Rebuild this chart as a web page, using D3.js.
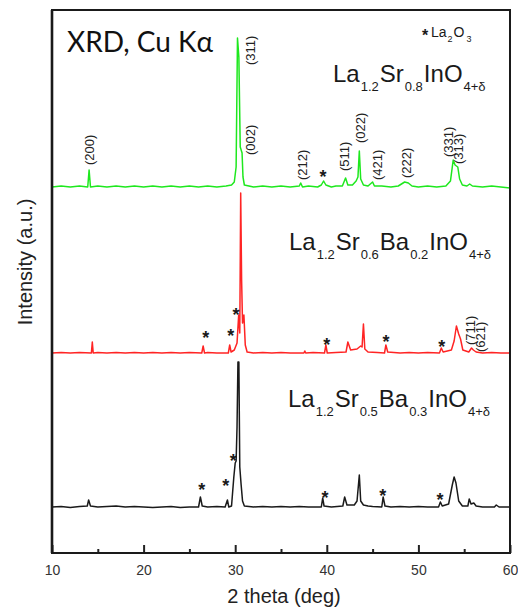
<!DOCTYPE html>
<html>
<head>
  <meta charset="utf-8">
  <script src="https://d3js.org/d3.v7.min.js"></script>
  <style>
    body { margin: 0; background: white; }
    svg { display: block; font-family: "Liberation Sans", Arial, sans-serif; }
  </style>
</head>
<body>
<svg width="518" height="610"></svg>

<script type="text/javascript">

// XRD patterns: [2 theta, intensity above its own baseline] (a.u.)
var sr08 = [
  [10,0],[11,1],[12,0],[13,1],[13.9,0],[14.05,17],[14.2,0],[15,1],[16,0],[17,1],[18,0],[19,1],
  [20,0],[21,1],[22,0],[23,1],[24,0],[25,1],[26,0],[27,1],[28,0],[29,1],[29.6,2],[29.9,5],
  [30.1,20],[30.25,149],[30.4,130],[30.55,40],[30.75,34],[30.85,10],[31.0,2],[31.5,1],[32,0],
  [33,1],[34,0],[35,1],[36,0],[37,1],[37.15,4],[37.35,0],[38,1],[39,0],[39.4,2],[39.65,6],
  [39.9,2],[40.5,0],[41,1],[41.7,1],[42.05,9],[42.3,2],[42.8,2],[43.2,6],[43.4,10],[43.55,36],
  [43.7,8],[44,2],[44.5,1],[45.0,5],[45.2,1],[46,1],[47,0],[47.8,1],[48.5,5],[48.9,4],[49.3,1],
  [50,0],[51,1],[52,0],[53,1],[53.5,6],[53.8,27],[54.0,22],[54.3,20],[54.5,8],[54.8,2],[55.3,1],
  [55.6,3],[55.9,1],[57,0],[58,1],[59,0],[60,-1]
];

var sr06ba02 = [
  [10,0],[11,0.5],[12,0],[13,0.5],[14.3,0],[14.4,11],[14.5,0],[15,0.5],[16,0],[17,0.5],[18,0],
  [19,0.5],[20,0],[21,0.5],[22,0],[23,0.5],[24,0],[25,0.5],[26.35,0],[26.5,7],[26.65,0],[27,0.5],
  [28,0],[29.25,0],[29.4,8],[29.55,1],[29.9,3],[30.2,10],[30.38,38],[30.5,20],[30.6,160],
  [30.7,73],[30.8,30],[30.95,38],[31.1,8],[31.3,1],[32,0],[33,0.5],[34,0],[35,0.5],[36,0],
  [37.5,0],[37.6,2],[37.7,0],[38.5,0.5],[39.75,0],[39.9,8],[40.05,0],[41,0.5],[42.1,1],[42.3,11],
  [42.6,3],[43.3,4],[43.7,7],[43.85,6],[44.0,29],[44.15,4],[44.5,1],[45.5,0.5],[46.3,0],[46.45,8],
  [46.65,1],[48,0],[49,0.5],[50,0],[51,0.5],[52.3,0],[52.5,5],[52.7,1],[53.6,3],[53.9,12],
  [54.15,27],[54.4,19],[54.6,14],[54.85,3],[55.5,1],[55.8,5],[56.0,3],[56.3,1],[57,0],[58,0.5],
  [59,0],[60,0]
];

var sr05ba03 = [
  [10,0],[11,0.5],[12,-0.5],[13,0.5],[13.85,1],[14.0,7],[14.2,1],[15,0],[16,0.5],[17,1],[18,0],
  [19,0.5],[20,0],[21,-0.5],[22,0],[23,0.5],[24,-0.5],[25,0],[26.0,0],[26.2,10],[26.4,1],[27,0],
  [28,0.5],[28.9,0],[29.15,7],[29.3,0],[29.6,1],[29.85,30],[30.0,44],[30.1,46],[30.2,80],
  [30.3,145],[30.4,145],[30.5,40],[30.65,22],[30.8,6],[31,1],[32,0],[33,0.5],[34,0],[35,0.5],
  [36,0],[37,0.5],[38,0],[39.4,0],[39.55,9],[39.7,1],[40.5,0],[41.75,1],[41.95,10],[42.2,2],
  [43.0,2],[43.3,6],[43.55,32],[43.7,6],[44,2],[44.5,1],[45,0.5],[46.0,0],[46.15,10],[46.35,1],
  [47,0],[48,0.5],[49,0],[50,0.5],[51,0],[52.2,0],[52.4,5],[52.6,1],[53.3,3],[53.7,22],[53.9,30],
  [54.1,24],[54.4,6],[54.8,1],[55.4,1],[55.55,8],[55.75,3],[56.05,4],[56.3,1],[57,0],[58.3,0],
  [58.5,2],[58.8,0],[60,0]
];

var patterns = [sr08, sr06ba02, sr05ba03];
var offsets = [366, 200, 46];                    // vertical stacking of the three patterns
var colors = ["#1ee81e", "#ff2424", "#1a1a1a"];

// Miller index labels: [text, 2 theta, intensity where the label starts]
var hklLabels = [
  ["(200)",14.04,388],["(311)",31.62,488],["(002)",31.62,398],["(212)",37.29,373],
  ["(511)",41.88,382],["(022)",43.62,410],["(421)",45.48,373],["(222)",48.72,375],
  ["(331)",53.25,396],["(313)",54.4,389],["(711)",55.63,208],["(621)",56.72,201]
];

// La2O3 impurity marks: [2 theta, intensity]
var impurityMarks = [
  [39.59,380],
  [26.78,219],[29.51,221],[30.09,242],[39.99,212],[46.46,215],[52.54,210],
  [26.34,67],[28.96,71],[29.79,96],[39.80,59],[46.10,61],[52.36,57]
];

var xMajorTicks = [10, 20, 30, 40, 50, 60];
var xMinorTicks = [15, 25, 35, 45, 55];

// formula pieces: [text, subscript?]
var formulas = [
  [["La",0],["1.2",1],["Sr",0],["0.8",1],["InO",0],["4+\u03b4",1]],
  [["La",0],["1.2",1],["Sr",0],["0.6",1],["Ba",0],["0.2",1],["InO",0],["4+\u03b4",1]],
  [["La",0],["1.2",1],["Sr",0],["0.5",1],["Ba",0],["0.3",1],["InO",0],["4+\u03b4",1]]
];
var formulaPos = [[333, 82], [289, 250], [288, 407]];

// plot box (note: "top" is reserved on window, so use other names)
var plotL = 52, plotR = 510, plotT = 10, plotB = 553;

var svg = d3.select("svg");

var x = d3.scaleLinear().domain([10, 60]).range([plotL, plotR]);
var y = d3.scaleLinear().domain([0, plotB - plotT]).range([plotB, plotT]);

// patterns
patterns.forEach(function(p, i) {
  var line = d3.line()
      .x(function(d) { return x(d[0]); })
      .y(function(d) { return y(d[1] + offsets[i]); });
  svg.append("path")
      .attr("d", line(p))
      .attr("fill", "none")
      .attr("stroke", colors[i])
      .attr("stroke-width", 1.5)
      .attr("stroke-linejoin", "round");
});

// axis ticks point inwards
svg.append("g")
    .attr("transform", "translate(0," + plotB + ")")
    .call(d3.axisBottom(x).tickValues(xMajorTicks).tickSize(-8).tickPadding(12))
    .call(function(g) {
      g.attr("font-size", 14).attr("font-family", "Liberation Sans, Arial, sans-serif");
      g.select(".domain").remove();
      g.selectAll("line").attr("stroke", "#222").attr("stroke-width", 2);
      g.selectAll("text").attr("fill", "#333");
    });

svg.append("g")
    .attr("transform", "translate(0," + plotB + ")")
    .call(d3.axisBottom(x).tickValues(xMinorTicks).tickSize(-4).tickFormat(""))
    .call(function(g) {
      g.select(".domain").remove();
      g.selectAll("line").attr("stroke", "#222").attr("stroke-width", 2);
    });

// frame
svg.append("rect")
    .attr("x", plotL).attr("y", plotT)
    .attr("width", plotR - plotL).attr("height", plotB - plotT)
    .attr("fill", "none").attr("stroke", "#1a1a1a").attr("stroke-width", 2);
svg.append("line")   // left side is a little heavier in the original
    .attr("x1", plotL).attr("x2", plotL).attr("y1", plotT).attr("y2", plotB)
    .attr("stroke", "#1a1a1a").attr("stroke-width", 2.6);

// hkl labels, rotated
svg.selectAll(".hkl")
    .data(hklLabels)
  .enter()
  .append("text")
    .attr("class", "hkl")
    .attr("transform", function(d) { return "translate(" + x(d[1]) + "," + y(d[2]) + ") rotate(-90)"; })
    .attr("dy", "0.35em")
    .attr("font-size", 13)
    .attr("fill", "#222")
    .text(function(d) { return d[0]; });

// impurity stars
svg.selectAll(".star")
    .data(impurityMarks)
  .enter()
  .append("text")
    .attr("class", "star")
    .attr("x", function(d) { return x(d[0]); })
    .attr("y", function(d) { return y(d[1]); })
    .attr("dy", "0.58em")
    .attr("text-anchor", "middle")
    .attr("font-size", 18)
    .attr("font-weight", "bold")
    .attr("fill", "#1a1a1a")
    .text("*");

// formulas
formulas.forEach(function(f, i) {
  var t = svg.append("text")
      .attr("x", formulaPos[i][0]).attr("y", formulaPos[i][1])
      .attr("fill", "#1a1a1a");
  var wasSub = false;
  f.forEach(function(part) {
    var s = t.append("tspan").text(part[0]);
    if (part[1]) {
      s.attr("font-size", 13).attr("dy", wasSub ? 0 : 9).attr("dx", 1);
    } else {
      s.attr("font-size", 24).attr("dy", wasSub ? -9 : 0).attr("dx", wasSub ? 1 : 0);
    }
    wasSub = !!part[1];
  });
});

// legend for La2O3
svg.append("text")
    .attr("x", 425).attr("y", 32).attr("dy", "0.58em")
    .attr("text-anchor", "middle").attr("font-size", 16).attr("font-weight", "bold")
    .attr("fill", "#1a1a1a").text("*");
var leg = svg.append("text").attr("x", 431).attr("y", 37).attr("fill", "#1a1a1a").attr("font-size", 14);
leg.append("tspan").text("La");
leg.append("tspan").text("2").attr("font-size", 9).attr("dy", 5).attr("dx", 1);
leg.append("tspan").text("O").attr("dy", -5).attr("dx", 1);
leg.append("tspan").text("3").attr("font-size", 9).attr("dy", 5).attr("dx", 2);

// title
svg.append("text")
    .attr("x", 67).attr("y", 52)
    .attr("font-size", 28).attr("fill", "#111")
    .attr("font-family", "Lato, 'Liberation Sans', sans-serif")
    .text("XRD, Cu K\u03b1");

// axis titles
svg.append("text")
    .attr("transform", "translate(25,262) rotate(-90)")
    .attr("dy", "0.35em")
    .attr("text-anchor", "middle")
    .attr("font-size", 20).attr("fill", "#222")
    .text("Intensity (a.u.)");

svg.append("text")
    .attr("x", 284).attr("y", 603)
    .attr("text-anchor", "middle")
    .attr("font-size", 20).attr("fill", "#222")
    .text("2 theta (deg)");

</script>
</body>
</html>
